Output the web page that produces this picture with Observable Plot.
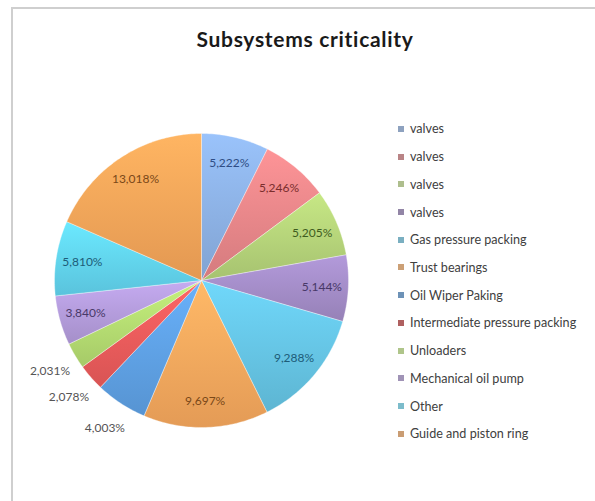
<!DOCTYPE html>
<html>
<head>
<meta charset="utf-8">
<script src="https://cdn.jsdelivr.net/npm/d3@7"></script>
<script src="https://cdn.jsdelivr.net/npm/@observablehq/plot@0.6"></script>
<style>
  html, body { margin: 0; padding: 0; background: #fff; }
  #wrap { position: relative; width: 595px; height: 501px; overflow: hidden; font-family: Lato, "Open Sans", sans-serif; }
  #frame { position: absolute; left: 11px; top: 7px; width: 700px; height: 600px; border-left: 2px solid #cfcfcf; border-top: 2px solid #cfcfcf; }
  #title { position: absolute; left: 0; top: 26px; width: 610px; text-align: center; font-weight: bold; font-size: 21px; letter-spacing: 0.7px; color: #1a1a1a; line-height: 26px; }
  #chart { position: absolute; left: 0; top: 0; }
  #legend { position: absolute; left: 398px; top: 115px; }
  .row { display: flex; align-items: center; height: 27.72px; font-size: 12.6px; color: #404040; }
  .sw { width: 6px; height: 6px; margin-right: 6px; }
</style>
</head>
<body>
<div id="wrap">
  <div id="frame"></div>
  <div id="chart"></div>
  <div id="title">Subsystems criticality</div>
  <div id="legend"></div>
</div>
<script>
const categories = ["valves", "valves", "valves", "valves", "Gas pressure packing", "Trust bearings",
  "Oil Wiper Paking", "Intermediate pressure packing", "Unloaders", "Mechanical oil pump", "Other", "Guide and piston ring"];
const values = [5.222, 5.246, 5.205, 5.144, 9.288, 9.697, 4.003, 2.078, 2.031, 3.840, 5.810, 13.018];
const sliceColors = ["#8db2e6", "#e8878a", "#b6d47a", "#a48dc8", "#66c6e6", "#f9a95e",
  "#5fa2e6", "#ec5c5c", "#b5dd72", "#b49cdc", "#62d5f0", "#f8a65a"];
const labelColors = ["#2e4d85", "#7a2d2d", "#3e5c1e", "#483868", "#1d5c78", "#7a4818",
  "#555555", "#555555", "#555555", "#483868", "#1d5c78", "#7a4818"];
const outsideLabels = [6, 7, 8];

const pie = d3.pie().sort(null).value(d => d)(values);

// slice outlines (center + arc), in unit-circle coordinates
const slicePts = [];
pie.forEach((p, i) => {
  const n = Math.max(2, Math.ceil((p.endAngle - p.startAngle) / (Math.PI / 180)));
  slicePts.push({i, x: 0, y: 0});
  for (let k = 0; k <= n; k++) {
    const a = p.startAngle + (p.endAngle - p.startAngle) * k / n;
    slicePts.push({i, x: Math.sin(a), y: Math.cos(a)});
  }
  slicePts.push({i, x: 0, y: 0});
});

const labels = pie.map((p, i) => {
  const a = (p.startAngle + p.endAngle) / 2;
  const r = outsideLabels.includes(i) ? 1.2 : 0.82;
  return {i, x: Math.sin(a) * r, y: Math.cos(a) * r,
    text: values[i].toFixed(3).replace(".", ",") + "%"};
});

const chart = Plot.plot({
  width: 595, height: 501,
  marginLeft: 54, marginRight: 247, marginTop: 133, marginBottom: 74,
  x: {domain: [-1, 1], axis: null},
  y: {domain: [-1, 1], axis: null},
  color: {type: "identity"},
  style: {fontFamily: "Lato, 'Open Sans', sans-serif", background: "transparent", overflow: "visible"},
  marks: [
    Plot.line(slicePts, {x: "x", y: "y", z: "i", fill: d => `url(#sg${d.i})`, stroke: "#ffffff", strokeWidth: 0.6, strokeOpacity: 0.6, curve: "linear"}),
    Plot.text(labels, {x: "x", y: "y", text: "text", fill: d => labelColors[d.i], fontSize: 12})
  ]
});

// gradient definitions for the slice fills (lighter top, darker bottom)
const ns = "http://www.w3.org/2000/svg";
const defs = document.createElementNS(ns, "defs");
sliceColors.forEach((c, i) => {
  const g = document.createElementNS(ns, "linearGradient");
  g.setAttribute("id", "sg" + i);
  g.setAttribute("x1", "0"); g.setAttribute("y1", "0");
  g.setAttribute("x2", "0"); g.setAttribute("y2", "1");
  [[0, d3.color(c).brighter(0.25)], [1, d3.color(c).darker(0.25)]].forEach(([o, col]) => {
    const s = document.createElementNS(ns, "stop");
    s.setAttribute("offset", o);
    s.setAttribute("stop-color", col.formatHex());
    g.appendChild(s);
  });
  defs.appendChild(g);
});
chart.insertBefore(defs, chart.firstChild);
document.getElementById("chart").appendChild(chart);

const legend = document.getElementById("legend");
categories.forEach((c, i) => {
  const row = document.createElement("div");
  row.className = "row";
  const sw = document.createElement("span");
  sw.className = "sw";
  sw.style.background = sliceColors[i];
  sw.style.filter = "saturate(0.6) brightness(0.92)";
  const t = document.createElement("span");
  t.textContent = c;
  row.appendChild(sw); row.appendChild(t);
  legend.appendChild(row);
});
</script>
</body>
</html>
